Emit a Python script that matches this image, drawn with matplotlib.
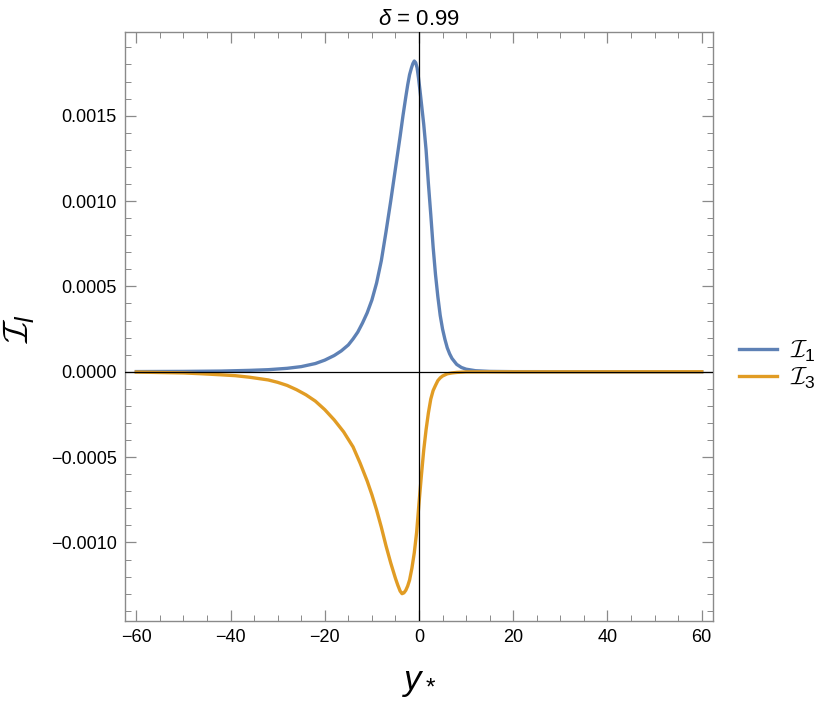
import numpy as np
import matplotlib.pyplot as plt
from matplotlib.ticker import MultipleLocator, FuncFormatter

plt.rcParams["font.family"] = ["Liberation Sans", "DejaVu Sans"]
plt.rcParams["mathtext.fontset"] = "custom"
plt.rcParams["mathtext.rm"] = "Liberation Sans"
plt.rcParams["mathtext.it"] = "Liberation Sans:italic"
plt.rcParams["mathtext.cal"] = "cmsy10"

# values
I1_X = [-60, -50, -42, -36, -32, -28, -25, -22, -20, -18, -16.5, -15, -14, -13,
        -12, -11, -10, -9, -8, -7, -6, -5, -4, -3.4, -2.8, -2.4, -2.0, -1.6,
        -1.3, -1.0, -0.7, -0.4, -0.1, 0.2, 0.6, 1.0, 1.5, 2.0, 2.5, 3.0, 3.5,
        4.0, 4.5, 5.0, 5.5, 6, 6.5, 7, 8, 9, 10, 12, 15, 20, 60]
I1_Y = [0.000001, 0.000002, 0.000004, 0.000008, 0.000012, 0.00002, 0.00003,
        0.000048, 0.000068, 0.000095, 0.000122, 0.000157, 0.000192, 0.000232,
        0.000285, 0.000345, 0.00042, 0.00052, 0.00065, 0.00082, 0.001, 0.00119,
        0.00138, 0.00150, 0.00161, 0.00168, 0.00174, 0.00178, 0.001805,
        0.00182, 0.00181, 0.00178, 0.00172, 0.00165, 0.00155, 0.00145,
        0.0013, 0.0011, 0.00092, 0.00073, 0.00057, 0.00044, 0.00033, 0.00025,
        0.00019, 0.00014, 0.000105, 0.000078, 0.000043, 0.000025, 0.000015,
        0.000006, 0.000002, 0.0000005, 0.0]

I3_X = [-60, -50, -46, -42, -39, -36, -32, -30, -28, -26, -24, -22, -20, -18,
        -16, -14, -12.5, -11, -10, -9, -8, -7, -6, -5, -4.5, -4.0, -3.6, -3.2,
        -2.8, -2.4, -2.0, -1.5, -1, -0.5, 0, 0.5, 1, 1.5, 2, 2.5, 3, 3.5, 4,
        4.5, 5, 6, 7, 8, 10, 60]
I3_Y = [-0.000002, -0.000007, -0.000012, -0.000018, -0.000023, -0.000032,
        -0.000048, -0.000062, -0.00008, -0.000105, -0.000135, -0.000172,
        -0.000222, -0.000282, -0.000352, -0.00044, -0.000535, -0.00064, -0.00072,
        -0.00081, -0.00091, -0.00102, -0.00112, -0.00121, -0.00125, -0.001285,
        -0.0013, -0.001295, -0.00128, -0.001255, -0.00122, -0.00115, -0.00106,
        -0.00094, -0.00077, -0.00061, -0.00046, -0.00034, -0.00024, -0.00016,
        -0.00011, -0.00008, -0.000052, -0.000036, -0.000025, -0.000012,
        -0.000007, -0.000004, -0.000001, 0.0]

BLUE = "#5E81B5"
ORANGE = "#E19C24"
FRAME = "#8a8a8a"


def minus_fmt(v, pos):
    return f"{v:.4f}".replace("-", "\u2212")


def minus_int(v, pos):
    return f"{v:.0f}".replace("-", "\u2212")


fig = plt.figure(figsize=(8.30, 7.01), dpi=100)
ax = fig.add_axes([125 / 830, 1 - 621 / 701, 588 / 830, 589 / 701])

ax.plot(I1_X, I1_Y, color=BLUE, lw=2.4, label=r"$\mathcal{I}_1$", zorder=2)
ax.plot(I3_X, I3_Y, color=ORANGE, lw=2.4, label=r"$\mathcal{I}_3$", zorder=2)

ax.axhline(0, color="black", lw=0.9, zorder=3)
ax.axvline(0, color="black", lw=0.9, zorder=3)

ax.set_xlim(-62.4, 62.4)
ax.set_ylim(-0.00146, 0.00199)

ax.xaxis.set_major_locator(MultipleLocator(20))
ax.xaxis.set_minor_locator(MultipleLocator(5))
ax.yaxis.set_major_locator(MultipleLocator(0.0005))
ax.yaxis.set_minor_locator(MultipleLocator(0.0001))
ax.xaxis.set_major_formatter(FuncFormatter(minus_int))
ax.yaxis.set_major_formatter(FuncFormatter(minus_fmt))

for side in ax.spines.values():
    side.set_color(FRAME)
    side.set_linewidth(1.0)

ax.tick_params(which="both", direction="in", top=True, right=True,
               color=FRAME, labelsize=13, labelcolor="black")
ax.tick_params(which="major", length=8, width=0.9, pad=6)
ax.tick_params(which="minor", length=4.5, width=0.7)

ax.set_title(r"$\delta$ = 0.99", fontsize=16, pad=5)
ax.set_xlabel(r"$y_*$", fontsize=25, labelpad=14)
ax.set_ylabel(r"$\mathcal{I}_l$", fontsize=26)
ax.yaxis.set_label_coords(-0.152, 0.497)

ax.legend(loc="center left", bbox_to_anchor=(1.0265, 0.435), frameon=False,
          fontsize=18, handlelength=1.55, handletextpad=0.5, labelspacing=0.05,
          borderaxespad=0)

fig.savefig("out.png", dpi=100, facecolor="white")
